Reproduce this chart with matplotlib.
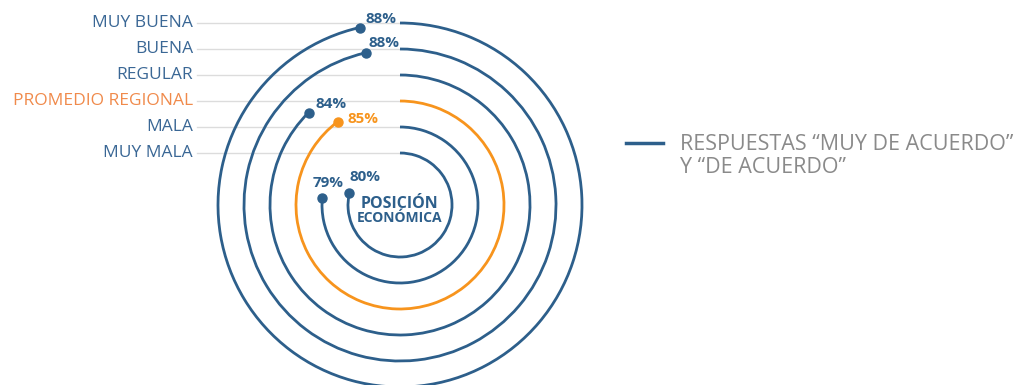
"""
Radial bar chart: agreement by economic position
"""

import matplotlib.pyplot as plt
import numpy as np
from matplotlib.lines import Line2D
from matplotlib.patches import Arc

# data, inner ring first
categories = ["MUY MALA", "MALA", "PROMEDIO REGIONAL", "REGULAR", "BUENA", "MUY BUENA"]
values = [80, 79, 85, 84, 88, 88]
value_labels = ["80%", "79%", "85%", "84%", "88%", "88%"]
center_title = ["POSICIÓN", "ECONÓMICA"]
legend_label = "RESPUESTAS “MUY DE ACUERDO”\nY “DE ACUERDO”"

# the value scale the arcs use (one full turn)
VALUE_MIN = 44.5
VALUE_MAX = 89.6

BLUE = "#2d5f8b"
ORANGE = "#f7941d"
ORANGE_TEXT = "#f08a4b"
LABEL_BLUE = "#3a6795"
GREY_LINE = "#dcdcdc"
GREY_TEXT = "#8a8a8a"

# layout (1 unit = 26 px)
UNIT = 26.0
W, H = 1019, 385
CX, CY = 400, 205
radii = [2, 3, 4, 5, 6, 7]
label_offsets = [(0, 16), (6, 15), (10, 3), (7, 9), (3, 10), (6, 9)]  # px
label_ha = ["left", "center", "left", "left", "left", "left"]

plt.rcParams["font.family"] = ["Open Sans", "DejaVu Sans"]

fig = plt.figure(figsize=(W / 100, H / 100), dpi=100)
ax = fig.add_axes([0, 0, 1, 1])
ax.set_xlim(-CX / UNIT, (W - CX) / UNIT)
ax.set_ylim(-(H - CY) / UNIT, CY / UNIT)
ax.axis("off")

label_x = -203 / UNIT
for cat, val, txt, r, off, ha in zip(categories, values, value_labels, radii, label_offsets, label_ha):
    color = ORANGE if cat == "PROMEDIO REGIONAL" else BLUE
    cat_color = ORANGE_TEXT if cat == "PROMEDIO REGIONAL" else LABEL_BLUE

    # grey guide line + category label
    ax.plot([label_x, -0.05], [r, r], color=GREY_LINE, lw=1.0, zorder=1)
    ax.text(label_x - 4 / UNIT, r, cat, ha="right", va="center",
            fontsize=12.5, color=cat_color)

    # arc clockwise from 12 o'clock
    angle = (val - VALUE_MIN) / (VALUE_MAX - VALUE_MIN) * 360.0
    arc = Arc((0, 0), 2 * r, 2 * r, theta1=90 - angle, theta2=90,
              color=color, lw=2.0, zorder=2)
    ax.add_patch(arc)

    a = np.deg2rad(angle)
    ex, ey = r * np.sin(a), r * np.cos(a)
    ax.plot(ex, ey, "o", color=color, ms=6.5, zorder=3)
    ax.annotate(txt, (ex, ey), xytext=off, textcoords="offset pixels",
                ha=ha, va="center", fontsize=11, fontweight="bold",
                color=color)

ax.text(0, 1 / UNIT, center_title[0], ha="center", va="center",
        fontsize=11.5, fontweight="bold", color=BLUE)
ax.text(0, -13 / UNIT, center_title[1], ha="center", va="center",
        fontsize=10, fontweight="bold", color=BLUE)

# legend key drawn by hand so the line sits on the first text line
fig.add_artist(Line2D([626 / W, 663 / W], [1 - 143 / H, 1 - 143 / H],
                      color=BLUE, lw=2.5, transform=fig.transFigure))
fig.text(680 / W, 1 - 134 / H, legend_label, ha="left", va="top",
         fontsize=15.5, color=GREY_TEXT, linespacing=1.1)

fig.savefig("out.png", dpi=100)
